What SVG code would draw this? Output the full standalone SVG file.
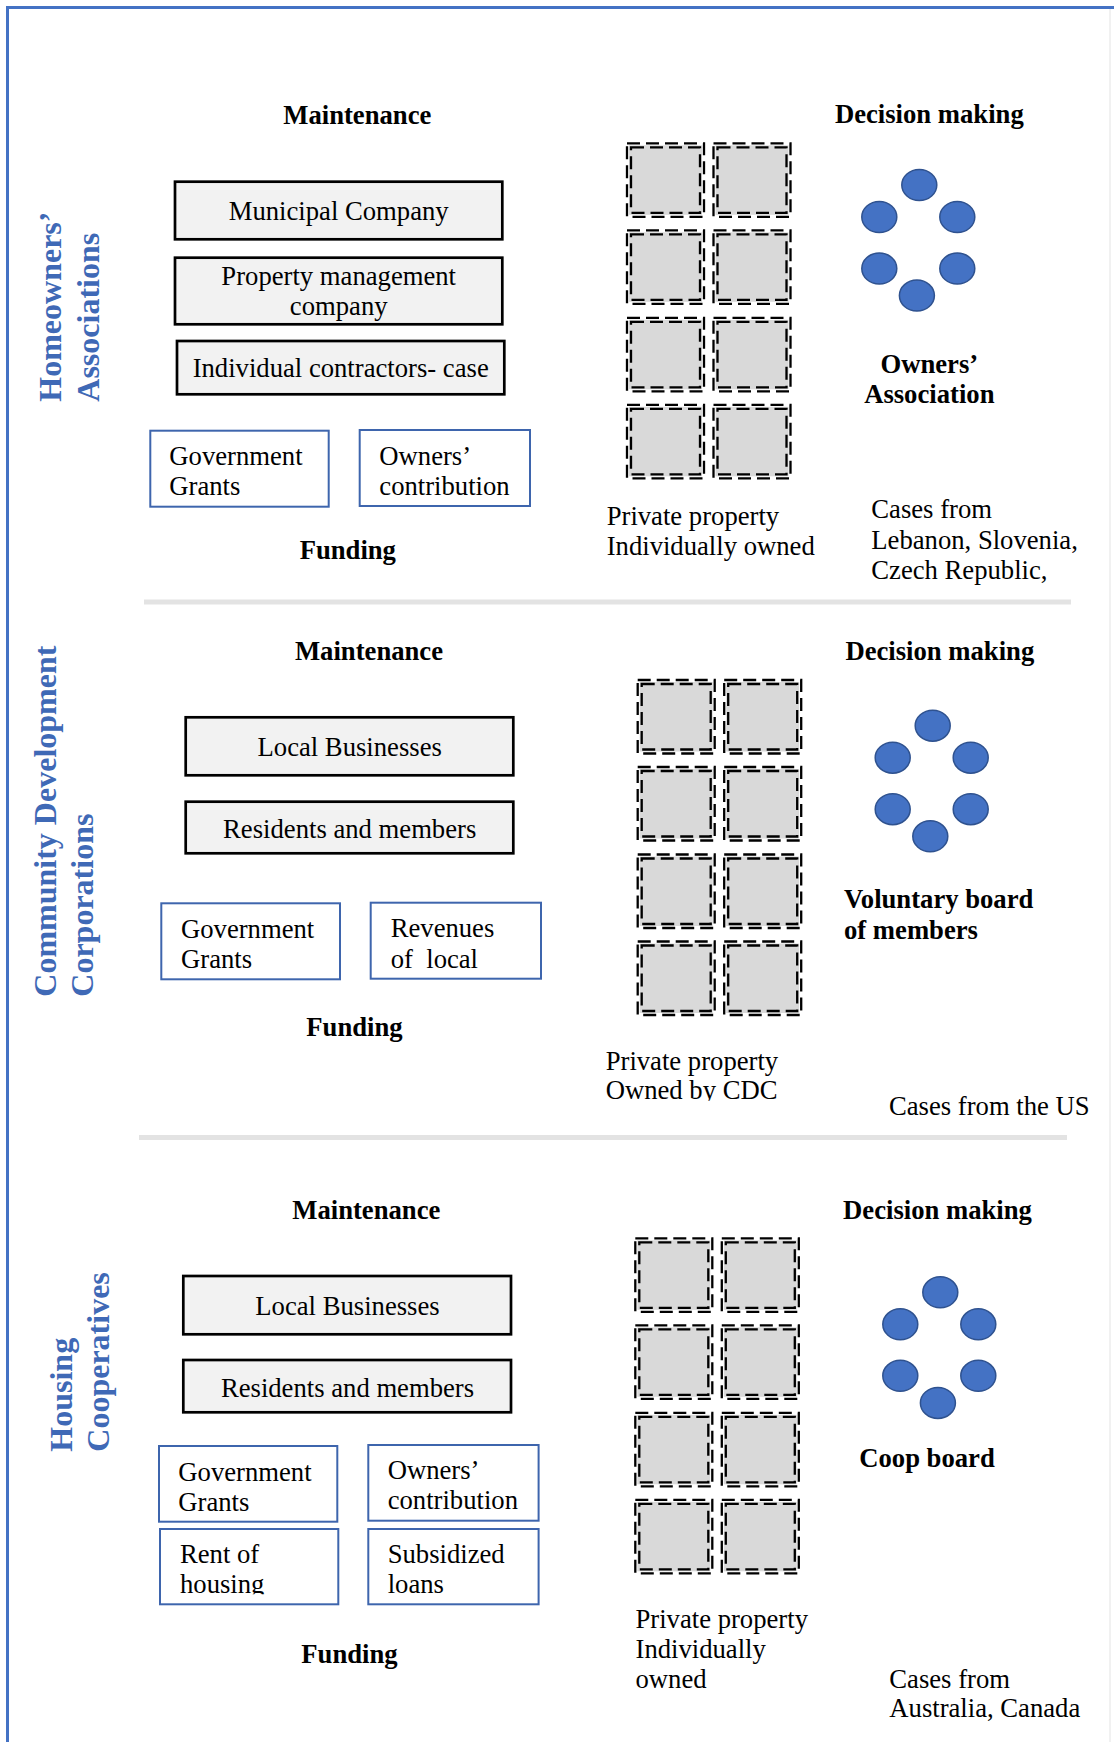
<svg xmlns="http://www.w3.org/2000/svg" width="1114" height="1742" viewBox="0 0 1114 1742">
<style>
.h{font-family:"Liberation Serif","Times New Roman",serif;font-weight:bold;font-size:26.67px;fill:#000}
.t{font-family:"Liberation Serif","Times New Roman",serif;font-size:26.67px;fill:#000}
.v{font-family:"Liberation Serif","Times New Roman",serif;font-weight:bold;font-size:32px;fill:#3f69b6}
.c{text-anchor:middle}
.mbox{fill:#f2f2f2;stroke:#000;stroke-width:2.7}
.fbox{fill:#fff;stroke:#3e65ad;stroke-width:2}
.dash{fill:none;stroke:#000;stroke-width:2.3;stroke-dasharray:13 6}
.dot{fill:#4472c4;stroke:#2f528f;stroke-width:1.5}
.sep{stroke:#e3e3e3;stroke-width:5}
</style>
<defs>
<g id="cell">
<rect x="3" y="3" width="73" height="69.5" fill="#d9d9d9"/>
<rect x="1" y="1" width="77" height="73.5" class="dash"/>
<rect x="5" y="5" width="69" height="65.5" class="dash"/>
</g>
<g id="grid">
<use href="#cell" x="0" y="0"/><use href="#cell" x="86.5" y="0"/>
<use href="#cell" x="0" y="87"/><use href="#cell" x="86.5" y="87"/>
<use href="#cell" x="0" y="174.5"/><use href="#cell" x="86.5" y="174.5"/>
<use href="#cell" x="0" y="261.5"/><use href="#cell" x="86.5" y="261.5"/>
</g>
<g id="ring">
<ellipse class="dot" cx="0" cy="0" rx="17.5" ry="15.5"/>
<ellipse class="dot" cx="-40" cy="32" rx="17.5" ry="15.5"/>
<ellipse class="dot" cx="38" cy="32" rx="17.5" ry="15.5"/>
<ellipse class="dot" cx="-40" cy="83.5" rx="17.5" ry="15.5"/>
<ellipse class="dot" cx="38" cy="83.5" rx="17.5" ry="15.5"/>
<ellipse class="dot" cx="-2.4" cy="110.6" rx="17.5" ry="15.5"/>
</g>
<clipPath id="clipCDC"><rect x="600" y="1040" width="220" height="60.7"/></clipPath>
<clipPath id="clipRent"><rect x="161" y="1530" width="176" height="64.3"/></clipPath>
</defs>
<rect width="1114" height="1742" fill="#fff"/>
<g id="frame">
<line x1="1110" y1="9" x2="1110" y2="1742" stroke="#ececec" stroke-width="1.5"/>
<path d="M7.5 1742 V7.5 H1114" fill="none" stroke="#4472c4" stroke-width="3"/>
</g>
<g id="connectors">
<line class="sep" x1="144" y1="602" x2="1071" y2="602"/>
<line class="sep" x1="139" y1="1137.5" x2="1067" y2="1137.5"/>
</g>

<!-- Section 1: Homeowners' Associations -->
<g id="label-hoa">
<text class="v" transform="translate(61 401.7) rotate(-90)">Homeowners’</text>
<text class="v" transform="translate(99 401.7) rotate(-90)">Associations</text>
</g>
<g id="hoa-maintenance"><text class="h c" x="357.3" y="124.3">Maintenance</text></g>
<g id="hoa-municipal"><rect class="mbox" x="175" y="181.7" width="327.3" height="57.6"/><text class="t c" x="338.7" y="220">Municipal Company</text></g>
<g id="hoa-property-mgmt"><rect class="mbox" x="175" y="257.7" width="327.3" height="66.6"/><text class="t c" x="338.7" y="285">Property management</text><text class="t c" x="338.7" y="315">company</text></g>
<g id="hoa-contractors"><rect class="mbox" x="177" y="341" width="327.3" height="53.3"/><text class="t c" x="340.7" y="376.7">Individual contractors- case</text></g>
<g id="hoa-gov-grants"><rect class="fbox" x="150.3" y="430.7" width="178.4" height="76"/><text class="t" x="169.3" y="465">Government</text><text class="t" x="169.3" y="495">Grants</text></g>
<g id="hoa-owners-contribution"><rect class="fbox" x="359.7" y="430" width="170.3" height="76"/><text class="t" x="379.3" y="465">Owners’</text><text class="t" x="379.3" y="495">contribution</text></g>
<g id="hoa-funding"><text class="h c" x="347.8" y="559.3">Funding</text></g>
<g id="hoa-property"><use href="#grid" x="626" y="142.3"/></g>
<g id="hoa-property-label"><text class="t" x="606.7" y="525">Private property</text><text class="t" x="606.7" y="555">Individually owned</text></g>
<g id="hoa-decision"><text class="h c" x="929.3" y="123.3">Decision making</text></g>
<g id="hoa-members"><use href="#ring" x="919.3" y="185"/></g>
<g id="hoa-owners-association"><text class="h c" x="929.3" y="372.7">Owners’</text><text class="h c" x="929.3" y="403.3">Association</text></g>
<g id="hoa-cases"><text class="t" x="871.3" y="518.3">Cases from</text><text class="t" x="871.3" y="549">Lebanon, Slovenia,</text><text class="t" x="871.3" y="579.3">Czech Republic,</text></g>

<!-- Section 2: Community Development Corporations -->
<g id="label-cdc">
<text class="v" transform="translate(55.5 996.7) rotate(-90)">Community Development</text>
<text class="v" transform="translate(93 996.7) rotate(-90)">Corporations</text>
</g>
<g id="cdc-maintenance"><text class="h c" x="369" y="660">Maintenance</text></g>
<g id="cdc-local-businesses"><rect class="mbox" x="185.7" y="717.3" width="327.6" height="58"/><text class="t c" x="349.7" y="756">Local Businesses</text></g>
<g id="cdc-residents"><rect class="mbox" x="185.7" y="801.7" width="327.6" height="51.6"/><text class="t c" x="349.7" y="838.3">Residents and members</text></g>
<g id="cdc-gov-grants"><rect class="fbox" x="161.3" y="903.3" width="178.7" height="76"/><text class="t" x="181" y="938.3">Government</text><text class="t" x="181" y="968.3">Grants</text></g>
<g id="cdc-revenues"><rect class="fbox" x="370.7" y="902.7" width="170.3" height="76"/><text class="t" x="390.7" y="936.7">Revenues</text><text class="t" x="390.7" y="967.7" xml:space="preserve">of  local</text></g>
<g id="cdc-funding"><text class="h c" x="354.5" y="1036">Funding</text></g>
<g id="cdc-property"><use href="#grid" x="636.7" y="679"/></g>
<g id="cdc-property-label" clip-path="url(#clipCDC)"><text class="t" x="605.7" y="1070">Private property</text><text class="t" x="605.7" y="1099.3">Owned by CDC</text></g>
<g id="cdc-decision"><text class="h c" x="939.8" y="660">Decision making</text></g>
<g id="cdc-members"><use href="#ring" x="932.7" y="725.7"/></g>
<g id="cdc-board"><text class="h" x="844" y="908.3">Voluntary board</text><text class="h" x="844" y="939.3">of members</text></g>
<g id="cdc-cases"><text class="t" x="889" y="1115">Cases from the US</text></g>

<!-- Section 3: Housing Cooperatives -->
<g id="label-hc">
<text class="v" transform="translate(71.5 1451.7) rotate(-90)">Housing</text>
<text class="v" transform="translate(109 1451.7) rotate(-90)">Cooperatives</text>
</g>
<g id="hc-maintenance"><text class="h c" x="366.3" y="1219">Maintenance</text></g>
<g id="hc-local-businesses"><rect class="mbox" x="183.3" y="1276" width="327.7" height="58.3"/><text class="t c" x="347.5" y="1315">Local Businesses</text></g>
<g id="hc-residents"><rect class="mbox" x="183.3" y="1360" width="327.7" height="52.3"/><text class="t c" x="347.5" y="1396.7">Residents and members</text></g>
<g id="hc-gov-grants"><rect class="fbox" x="159" y="1446" width="178.3" height="75.7"/><text class="t" x="178.3" y="1481">Government</text><text class="t" x="178.3" y="1510.7">Grants</text></g>
<g id="hc-owners-contribution"><rect class="fbox" x="368.3" y="1445" width="170.3" height="75.7"/><text class="t" x="387.7" y="1479.3">Owners’</text><text class="t" x="387.7" y="1509.3">contribution</text></g>
<g id="hc-rent"><rect class="fbox" x="160" y="1529" width="178.3" height="75.3"/><g clip-path="url(#clipRent)"><text class="t" x="180" y="1562.7">Rent of</text><text class="t" x="180" y="1592.7">housing</text></g></g>
<g id="hc-loans"><rect class="fbox" x="368.3" y="1529" width="170.3" height="75.3"/><text class="t" x="387.7" y="1562.7">Subsidized</text><text class="t" x="387.7" y="1592.7">loans</text></g>
<g id="hc-funding"><text class="h c" x="349.5" y="1662.7">Funding</text></g>
<g id="hc-property"><use href="#grid" x="634.3" y="1237.3"/></g>
<g id="hc-property-label"><text class="t" x="635.5" y="1628.3">Private property</text><text class="t" x="635.5" y="1658.3">Individually</text><text class="t" x="635.5" y="1688.3">owned</text></g>
<g id="hc-decision"><text class="h c" x="937.5" y="1219">Decision making</text></g>
<g id="hc-members"><use href="#ring" x="940.3" y="1292.3"/></g>
<g id="hc-board"><text class="h c" x="927" y="1467.3">Coop board</text></g>
<g id="hc-cases"><text class="t" x="889.3" y="1688.3">Cases from</text><text class="t" x="889.3" y="1717.3">Australia, Canada</text></g>
</svg>
